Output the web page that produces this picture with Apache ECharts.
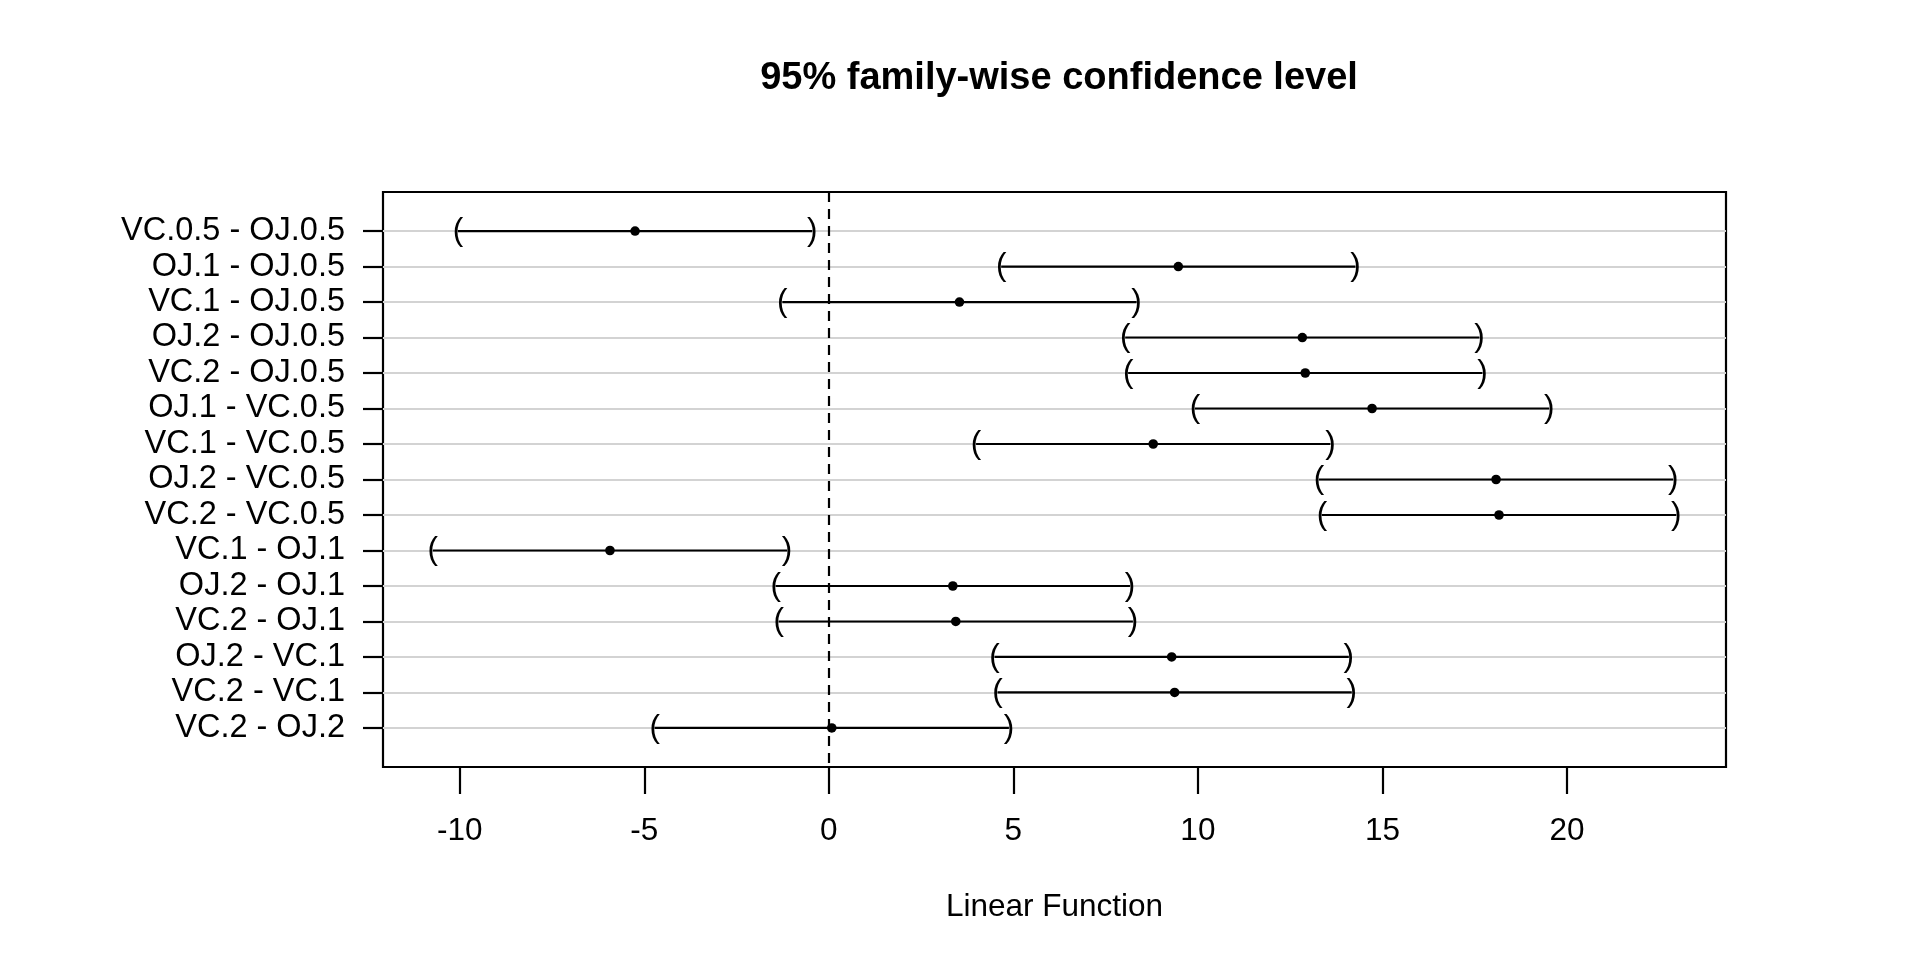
<!DOCTYPE html>
<html>
<head>
<meta charset="utf-8">
<script src="https://cdn.jsdelivr.net/npm/echarts@6/dist/echarts.min.js"></script>
<style>
  html, body { margin: 0; padding: 0; background: #fff; }
  #chart { width: 1920px; height: 960px; }
</style>
</head>
<body>
<div id="chart"></div>
<script>
// Comparison labels (top to bottom)
const categories = [
  'VC.0.5 - OJ.0.5', 'OJ.1 - OJ.0.5', 'VC.1 - OJ.0.5', 'OJ.2 - OJ.0.5', 'VC.2 - OJ.0.5',
  'OJ.1 - VC.0.5', 'VC.1 - VC.0.5', 'OJ.2 - VC.0.5', 'VC.2 - VC.0.5', 'VC.1 - OJ.1',
  'OJ.2 - OJ.1', 'VC.2 - OJ.1', 'OJ.2 - VC.1', 'VC.2 - VC.1', 'VC.2 - OJ.2'
];
// Point estimates
const estimates = [-5.25, 9.47, 3.54, 12.83, 12.91, 14.72, 8.79, 18.08, 18.16, -5.93, 3.36, 3.44, 9.29, 9.37, 0.08];
// Lower confidence bounds
const lowers = [-10.05, 4.67, -1.26, 8.03, 8.11, 9.92, 3.99, 13.28, 13.36, -10.73, -1.44, -1.36, 4.49, 4.57, -4.72];
// Upper confidence bounds
const uppers = [-0.45, 14.27, 8.34, 17.63, 17.71, 19.52, 13.59, 22.88, 22.96, -1.13, 8.16, 8.24, 14.09, 14.17, 4.88];
// X tick labels
const xTicks = [-10, -5, 0, 5, 10, 15, 20];
const rowPositions = categories.map((c, i) => i + 1);

const FONT = "'Liberation Sans', Arial, sans-serif";
const FS = 31.5;

const data = categories.map((c, i) => [i + 1, lowers[i], estimates[i], uppers[i]]);

const chart = echarts.init(document.getElementById('chart'), null, { renderer: 'canvas' });

chart.setOption({
  animation: false,
  backgroundColor: '#ffffff',
  title: {
    text: '95% family-wise confidence level',
    left: 1054,
    top: 55,
    textAlign: 'center',
    textStyle: { fontFamily: FONT, fontSize: 38, fontWeight: 'bold', color: '#000' }
  },
  grid: {
    left: 383, top: 192, width: 1343, height: 575,
    show: true, borderColor: '#000', borderWidth: 2.2, backgroundColor: 'transparent'
  },
  xAxis: {
    type: 'value',
    position: 'bottom',
    min: -12.08,
    max: 24.31,
    name: 'Linear Function',
    nameLocation: 'middle',
    nameGap: 124,
    nameTextStyle: { fontFamily: FONT, fontSize: FS, color: '#000' },
    axisLine: { show: false, onZero: false },
    axisTick: { show: true, inside: false, length: 27, lineStyle: { color: '#000', width: 2.2 }, customValues: xTicks },
    axisLabel: { customValues: xTicks, fontFamily: FONT, fontSize: FS, color: '#000', margin: 48 },
    splitLine: { show: false }
  },
  yAxis: {
    type: 'value',
    position: 'left',
    inverse: true,
    min: -0.1,
    max: 16.1,
    axisLine: { show: false, onZero: false },
    axisTick: { show: true, inside: false, length: 20, lineStyle: { color: '#000', width: 2.2 }, customValues: rowPositions },
    axisLabel: {
      customValues: rowPositions,
      fontFamily: FONT, fontSize: 32.5, color: '#000', margin: 38,
      formatter: function (v) { return categories[Math.round(v) - 1] || ''; }
    },
    splitLine: { show: true, lineStyle: { color: '#d3d3d3', width: 2 } }
  },
  series: [{
    type: 'custom',
    data: data,
    encode: { x: [1, 2, 3], y: 0 },
    renderItem: function (params, api) {
      const y = api.value(0);
      const lo = api.coord([api.value(1), y]);
      const mid = api.coord([api.value(2), y]);
      const hi = api.coord([api.value(3), y]);
      return {
        type: 'group',
        children: [
          { type: 'line', shape: { x1: lo[0], y1: lo[1], x2: hi[0], y2: hi[1] },
            style: { stroke: '#000', lineWidth: 2.2 } },
          { type: 'text', x: lo[0], y: lo[1],
            style: { text: '(', fontFamily: FONT, fontSize: FS, fill: '#000', align: 'center', verticalAlign: 'middle' } },
          { type: 'text', x: hi[0], y: hi[1],
            style: { text: ')', fontFamily: FONT, fontSize: FS, fill: '#000', align: 'center', verticalAlign: 'middle' } },
          { type: 'circle', shape: { cx: mid[0], cy: mid[1], r: 4.8 }, style: { fill: '#000' } }
        ]
      };
    },
    markLine: {
      silent: true,
      symbol: 'none',
      label: { show: false },
      lineStyle: { color: '#000', type: [10, 7], width: 2.2 },
      data: [{ xAxis: 0 }]
    },
    z: 5
  }]
});
</script>
</body>
</html>
